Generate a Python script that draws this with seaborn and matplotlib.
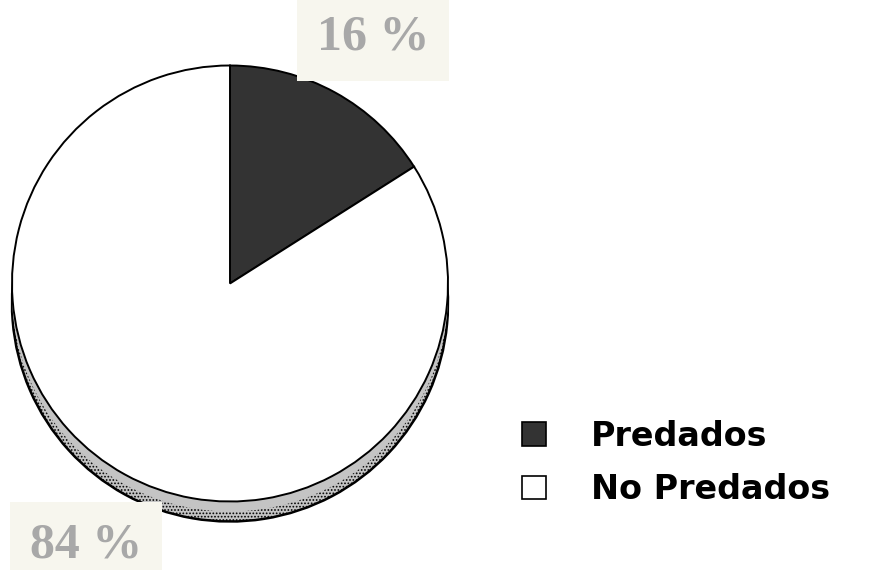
import matplotlib
matplotlib.use("Agg")
import matplotlib.pyplot as plt
import seaborn as sns

# Data
categories = ["Predados", "No Predados"]
values = [16, 84]
pct_labels = ["16 %", "84 %"]

sns.set_style("white")
plt.rcParams["hatch.linewidth"] = 0.8

W, H = 890, 570
fig = plt.figure(figsize=(W / 100, H / 100), dpi=100)
ax = fig.add_axes([0, 0, 1, 1])

cx, cy, r = 230, H - 283.5, 218
depth = 20

# rim (3D side) drawn first
rim, _ = ax.pie(values, startangle=90, counterclock=False, center=(cx, cy - depth),
                radius=r, colors=["#c4c4c4", "#c4c4c4"],
                wedgeprops=dict(edgecolor="black", linewidth=1.8, hatch="....."))
ax.pie([1], startangle=90, center=(cx, cy - depth / 2), radius=r,
       colors=["#c4c4c4"], wedgeprops=dict(edgecolor="none", hatch="....."))

palette = ["#333333", "#ffffff"]
wedges, _ = ax.pie(values, startangle=90, counterclock=False, center=(cx, cy),
                   radius=r, colors=palette,
                   wedgeprops=dict(edgecolor="black", linewidth=1.4))

ax.set_xlim(0, W)
ax.set_ylim(0, H)
ax.set_aspect("equal")
ax.axis("off")

# percentage labels
box = dict(facecolor="#f7f6ee", edgecolor="none", boxstyle="square,pad=0.4")
ax.text(373, H - 38, pct_labels[0], ha="center", va="center", fontsize=36,
        family="Liberation Serif", weight="bold", color="#a8a8a8", bbox=box)
ax.text(86, H - 545, pct_labels[1], ha="center", va="center", fontsize=36,
        family="Liberation Serif", weight="bold", color="#a8a8a8", bbox=box)

leg = fig.legend(wedges, categories, loc="center left",
                 bbox_to_anchor=(0.553, 0.188), frameon=False,
                 handlelength=0.7, handleheight=0.7, handletextpad=1.35,
                 labelspacing=0.62, labelcolor="black",
                 prop=dict(family="DejaVu Sans", weight="bold", size=24))
for h in leg.legend_handles:
    h.set_linewidth(1.2)

fig.savefig("out.png", dpi=100)
